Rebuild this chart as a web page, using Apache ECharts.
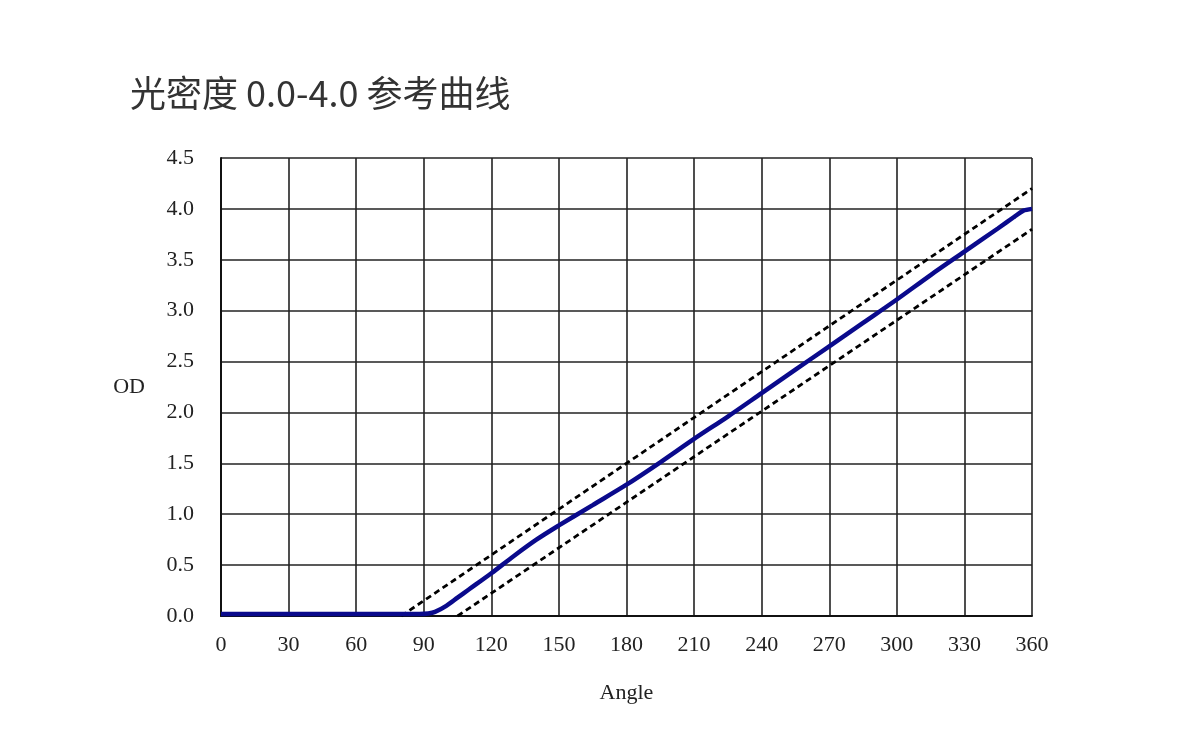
<!DOCTYPE html>
<html>
<head>
<meta charset="utf-8">
<script src="https://cdn.jsdelivr.net/npm/echarts@6/dist/echarts.min.js"></script>
<style>
html,body{margin:0;padding:0;background:#fff;}
#chart{width:1200px;height:750px;}
</style>
</head>
<body>
<div id="chart"></div>
<script>
var titleText = '光密度 0.0-4.0 参考曲线';
var xAxisName = 'Angle';
var yAxisName = 'OD';

// measured curve
var curveAngle = [0, 30, 60, 88, 92, 95, 100, 105, 110, 120, 130, 140, 150, 165, 180, 195, 210, 225, 240, 255, 270, 285, 300, 315, 330, 345, 352, 356, 360];
var curveOD    = [0.02, 0.02, 0.02, 0.02, 0.025, 0.04, 0.1, 0.18, 0.26, 0.42, 0.59, 0.75, 0.89, 1.09, 1.29, 1.51, 1.74, 1.96, 2.19, 2.42, 2.65, 2.88, 3.11, 3.35, 3.58, 3.81, 3.92, 3.98, 4.0];

// tolerance lines
var upperAngle = [80, 360];
var upperOD    = [0, 4.2];
var lowerAngle = [105, 360];
var lowerOD    = [0, 3.8];

function pairs(xs, ys){ return xs.map(function(x,i){ return [x, ys[i]]; }); }

var chart = echarts.init(document.getElementById('chart'), null, {renderer:'canvas'});
var serif = '"Liberation Serif", "DejaVu Serif", serif';
chart.setOption({
  backgroundColor: '#ffffff',
  animation: false,
  title: {
    text: titleText,
    left: 125, top: 70,
    textStyle: {fontFamily: '"Noto Sans CJK SC", sans-serif', fontSize: 36, fontWeight: 'normal', color: '#333333'}
  },
  grid: {left: 221, right: 168, top: 158, bottom: 134},
  xAxis: {
    type: 'value', min: 0, max: 360, interval: 30,
    name: xAxisName, nameLocation: 'middle', nameGap: 66,
    nameTextStyle: {fontFamily: serif, fontSize: 22, color: '#222'},
    axisLine: {show: true, lineStyle: {color: '#111', width: 2}},
    axisTick: {show: false},
    axisLabel: {margin: 18, fontFamily: serif, fontSize: 22, color: '#222'},
    splitLine: {show: true, lineStyle: {color: '#222', width: 1.6}}
  },
  yAxis: {
    type: 'value', min: 0, max: 4.5, interval: 0.5,
    name: yAxisName, nameLocation: 'middle', nameGap: 76, nameRotate: 0,
    nameTextStyle: {fontFamily: serif, fontSize: 22, color: '#222'},
    axisLine: {show: true, lineStyle: {color: '#111', width: 2}},
    axisTick: {show: false},
    axisLabel: {margin: 27, fontFamily: serif, fontSize: 22, color: '#222',
      formatter: function(v){ return v.toFixed(1); }},
    splitLine: {show: true, lineStyle: {color: '#222', width: 1.6}}
  },
  series: [
    {type: 'line', data: pairs(upperAngle, upperOD), symbol: 'none',
     lineStyle: {color: '#000', width: 2.8, type: [6, 4]}},
    {type: 'line', data: pairs(lowerAngle, lowerOD), symbol: 'none',
     lineStyle: {color: '#000', width: 2.8, type: [6, 4]}},
    {type: 'line', data: pairs(curveAngle, curveOD), symbol: 'none', smooth: 0.3,
     lineStyle: {color: '#0a0a8c', width: 4.5}}
  ]
});
</script>
</body>
</html>
